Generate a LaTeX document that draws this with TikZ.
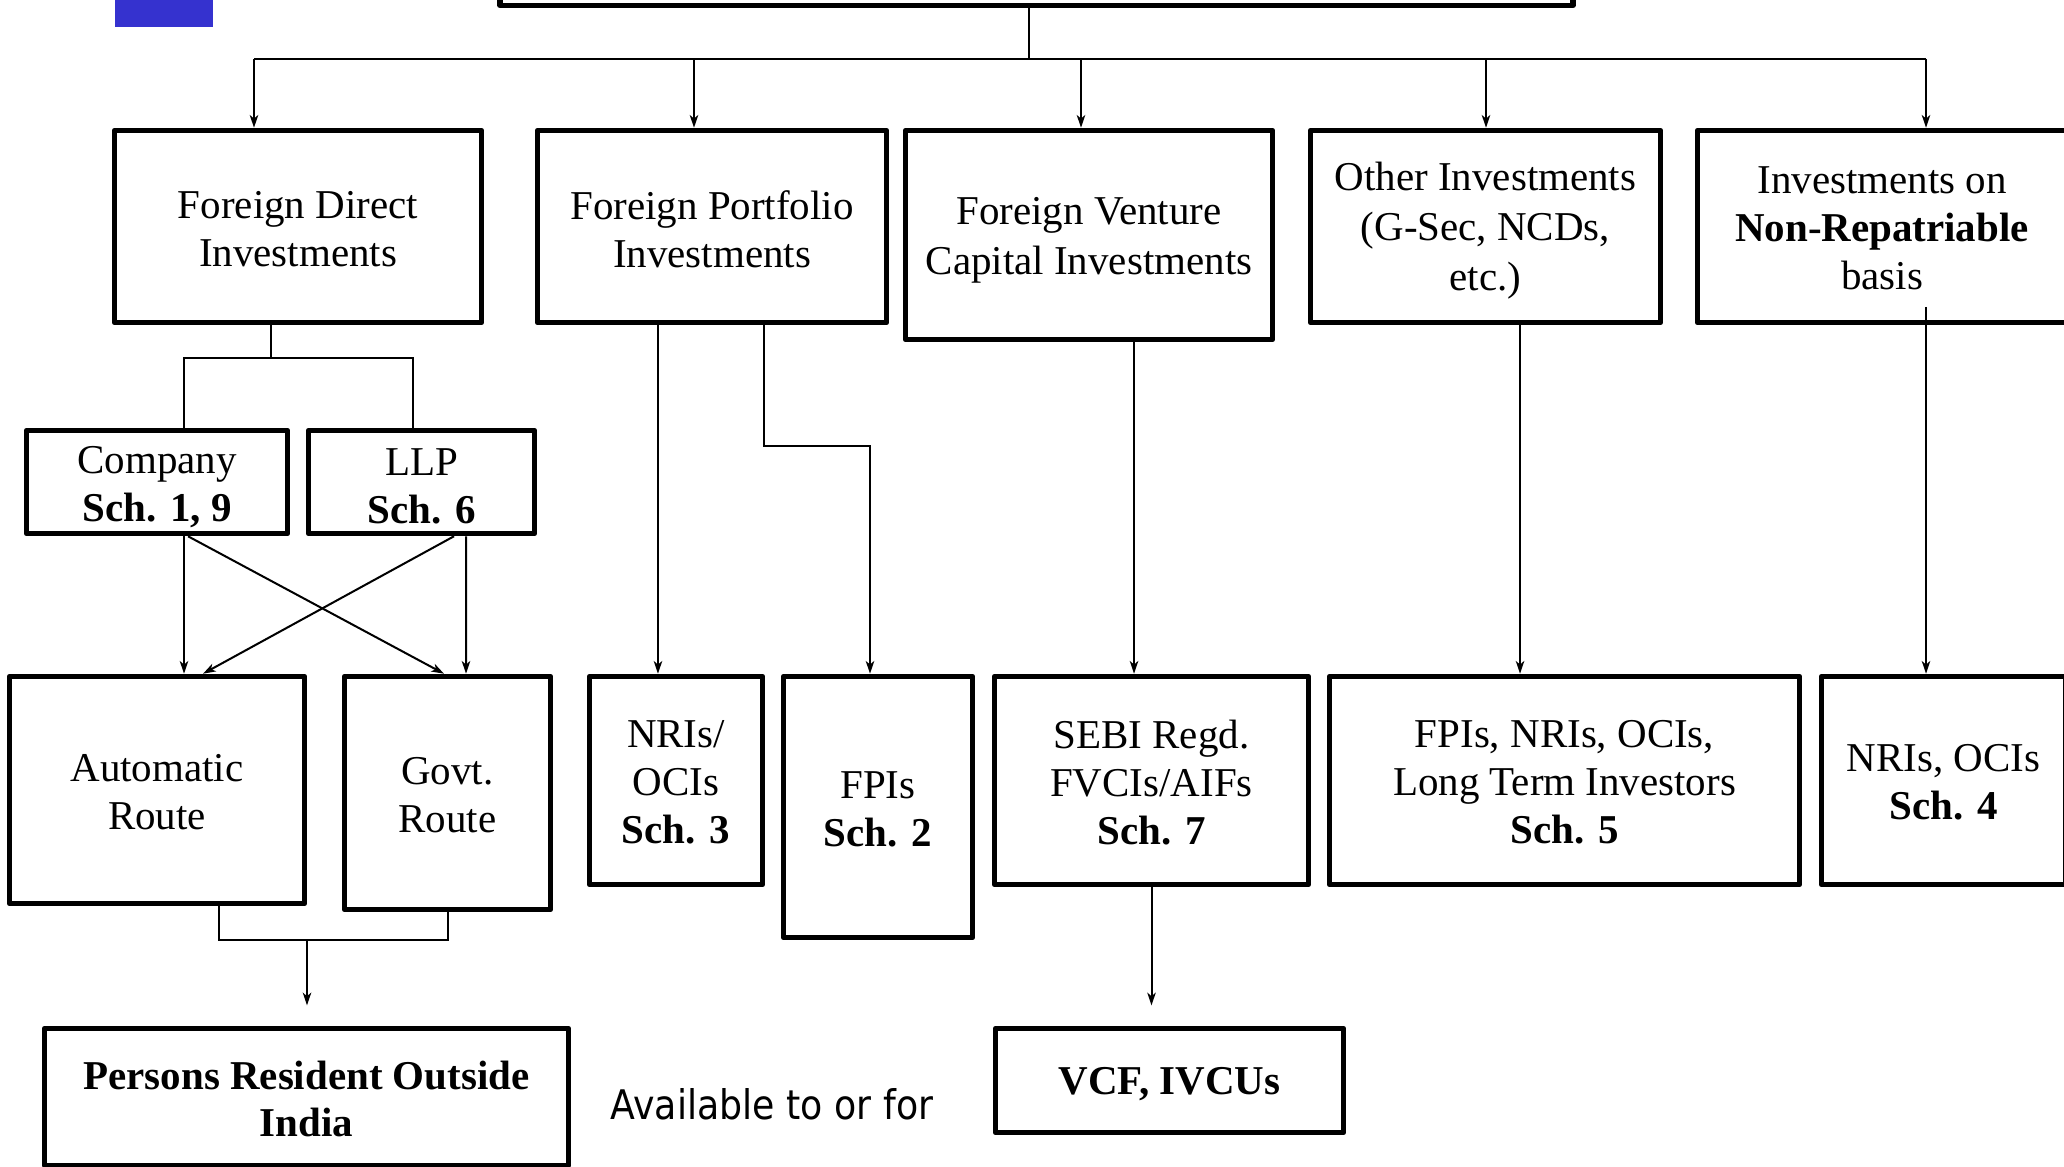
\documentclass[tikz,border=0pt]{standalone}
\usepackage{fontspec}
\setmainfont{Liberation Serif}
\newfontfamily\availfont[FakeStretch=0.89]{DejaVu Sans}
\usetikzlibrary{arrows.meta}
\definecolor{blueblock}{RGB}{53,50,207}
\begin{document}
\begin{tikzpicture}[x=0.01cm,y=-0.01cm,
  bx/.style={draw, line width=1.55pt, line join=round, inner sep=0pt},
  txt/.style={inner sep=0pt, align=center, font=\fontsize{11.65}{13.6}\selectfont},
  wide/.style={font=\fontsize{11.65}{14.3}\selectfont},
  ln/.style={line width=0.57pt},
  arr/.style={ln, -{Stealth[length=3.6pt,width=2.4pt,inset=1pt]}},
]
\useasboundingbox (0,0) rectangle (2064,1167);
\fill[white] (0,0) rectangle (2064,1167);

% corner marker
\fill[blueblock] (115,0) rectangle (213,27);

% top box (only its lower edge is inside the page)
\node[bx, minimum width=10.72cm, minimum height=1.05cm] (root) at (1036.5,-47) {};

% first level
\node[bx, minimum width=3.67cm, minimum height=1.92cm] (fdi) at (298,226.5) {};
\node[bx, minimum width=3.49cm, minimum height=1.92cm] (fpi) at (712,226.5) {};
\node[bx, minimum width=3.67cm, minimum height=2.09cm] (fvci) at (1089,235) {};
\node[bx, minimum width=3.50cm, minimum height=1.92cm] (oth) at (1485.5,226.5) {};
\node[bx, minimum width=3.69cm, minimum height=1.92cm] (nonrep) at (1882,226.5) {};
\node[txt] (fdi-t) at ([yshift=-0.03cm]fdi.center) {Foreign Direct\\Investments};
\node[txt] (fpi-t) at ([yshift=-0.03cm]fpi.center) {Foreign Portfolio\\Investments};
\node[txt, wide] (fvci-t) at ([yshift=-0.05cm]fvci.center) {Foreign Venture\\Capital Investments};
\node[txt, wide] (oth-t) at ([yshift=-0.04cm]oth.center) {Other Investments\\(G-Sec, NCDs,\\etc.)};
\node[txt] (nonrep-t) at ([yshift=-0.02cm]nonrep.center) {Investments on\\\textbf{Non-Repatriable}\\basis};

% FDI entity types
\node[bx, minimum width=2.61cm, minimum height=1.03cm] (company) at (157,482) {};
\node[bx, minimum width=2.26cm, minimum height=1.03cm] (llp) at (421.5,482) {};
\node[txt] (company-t) at ([yshift=-0.05cm]company.center) {Company\\\textbf{Sch. 1, 9}};
\node[txt] (llp-t) at ([yshift=-0.04cm]llp.center) {LLP\\\textbf{Sch. 6}};

% second level
\node[bx, minimum width=2.95cm, minimum height=2.27cm] (auto) at (157,790) {};
\node[bx, minimum width=2.06cm, minimum height=2.33cm] (govt) at (447.5,793) {};
\node[bx, minimum width=1.73cm, minimum height=2.08cm] (nri3) at (676,780.5) {};
\node[bx, minimum width=1.89cm, minimum height=2.61cm] (fpi2) at (878,807) {};
\node[bx, minimum width=3.14cm, minimum height=2.08cm] (sebi) at (1151.5,780.5) {};
\node[bx, minimum width=4.70cm, minimum height=2.08cm] (sch5) at (1564.5,780.5) {};
\node[bx, minimum width=2.44cm, minimum height=2.08cm] (nri4) at (1943.5,780.5) {};
\node[txt] (auto-t) at ([yshift=-0.02cm]auto.center) {Automatic\\Route};
\node[txt] (govt-t) at ([yshift=-0.02cm]govt.center) {Govt.\\Route};
\node[txt] (nri3-t) at ([yshift=-0.02cm]nri3.center) {NRIs/\\OCIs\\\textbf{Sch. 3}};
\node[txt] (fpi2-t) at ([yshift=-0.02cm]fpi2.center) {FPIs\\\textbf{Sch. 2}};
\node[txt] (sebi-t) at ([yshift=-0.02cm]sebi.center) {SEBI Regd.\\FVCIs/AIFs\\\textbf{Sch. 7}};
\node[txt] (sch5-t) at ([yshift=-0.02cm]sch5.center) {FPIs, NRIs, OCIs,\\Long Term Investors\\\textbf{Sch. 5}};
\node[txt] (nri4-t) at ([yshift=-0.02cm]nri4.center) {NRIs, OCIs\\\textbf{Sch. 4}};

% bottom row
\node[bx, minimum width=5.24cm, minimum height=1.37cm] (persons) at (306.5,1097) {};
\node[bx, minimum width=3.48cm, minimum height=1.04cm] (vcf) at (1169.5,1080.5) {};
\node[txt] (persons-t) at ([yshift=-0.02cm]persons.center) {\textbf{Persons Resident Outside}\\\textbf{India}};
\node[txt] (vcf-t) at ([yshift=-0.04cm]vcf.center) {\textbf{VCF, IVCUs}};
\node[inner sep=0pt, font=\availfont\fontsize{11.6}{13.6}\selectfont] (avail) at (772,1104) {Available to or for};

% distribution bus
\coordinate (bus) at (1029,59);
\coordinate (b1) at (254,59);
\coordinate (b2) at (694,59);
\coordinate (b3) at (1081,59);
\coordinate (b4) at (1486,59);
\coordinate (b5) at (1926,59);
\draw[ln] (root.south -| bus) -- (bus);
\draw[ln] (b1) -- (b5);
\draw[arr] (b1) -- (b1 |- fdi.north);
\draw[arr] (b2) -- (b2 |- fpi.north);
\draw[arr] (b3) -- (b3 |- fvci.north);
\draw[arr] (b4) -- (b4 |- oth.north);
\draw[arr] (b5) -- (b5 |- nonrep.north);

% FDI split into company / LLP
\coordinate (s0) at (271,358);
\coordinate (s1) at (184,358);
\coordinate (s2) at (413,358);
\draw[ln] (fdi.south -| s0) -- (s0);
\draw[ln] (company.north -| s1) -- (s1) -- (s2) -- (llp.north -| s2);

% routes
\draw[arr] ([xshift=0.27cm]company.south) -- ([xshift=0.27cm]auto.north);
\draw[arr] ([xshift=0.31cm]company.south) -- ([xshift=-0.035cm]govt.north);
\draw[arr] ([xshift=0.325cm]llp.south) -- ([xshift=0.46cm]auto.north);
\draw[arr] ([xshift=0.445cm]llp.south) -- ([xshift=0.185cm]govt.north);

% routes merge towards persons resident outside India
\coordinate (j) at (307,940);
\draw[ln] ([xshift=0.62cm]auto.south) |- (j) -| (govt.south);
\draw[arr, shorten >=5.8pt] (j) -- (persons.north -| j);

% FPI branches
\coordinate (pa) at ([xshift=-0.54cm]fpi.south);
\coordinate (pb) at ([xshift=0.52cm]fpi.south);
\coordinate (k) at (870,446);
\draw[arr] (pa) -- (pa |- nri3.north);
\draw[arr] (pb) |- (k) -- (k |- fpi2.north);

% FVCI, other, non-repatriable
\coordinate (va) at ([xshift=0.45cm]fvci.south);
\draw[arr] (va) -- (va |- sebi.north);
\coordinate (oa) at ([xshift=0.345cm]oth.south);
\draw[arr] (oa) -- (oa |- sch5.north);
\coordinate (nr) at (1926,307);
\draw[arr] (nr) -- (nr |- nri4.north);

% SEBI registered towards VCF
\draw[arr, shorten >=5.8pt] (sebi.south) -- (sebi.south |- vcf.north);
\end{tikzpicture}
\end{document}
